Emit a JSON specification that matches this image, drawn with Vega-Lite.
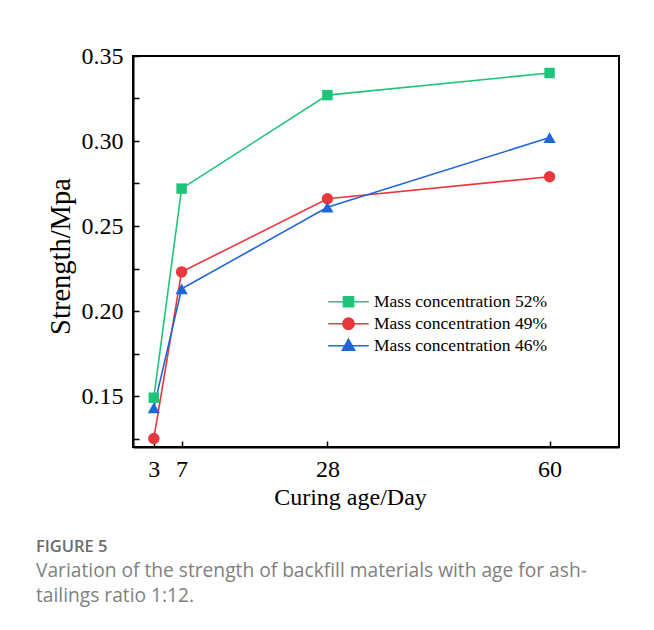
{
  "$schema": "https://vega.github.io/schema/vega-lite/v6.json",
  "autosize": {"type": "none"},
  "padding": {"left": 133, "top": 56, "right": 35, "bottom": 183},
  "width": 486,
  "height": 391,
  "background": "white",
  "config": {
    "font": "Liberation Serif",
    "view": {"stroke": "black", "strokeWidth": 2},
    "axis": {"grid": false, "domainColor": "black", "domainWidth": 2, "tickColor": "black", "tickWidth": 1.5, "labelColor": "black", "titleColor": "black", "labelFont": "Liberation Serif", "titleFont": "Liberation Serif", "titleFontWeight": "normal"}
  },
  "title": {
    "text": "FIGURE 5",
    "subtitle": ["Variation of the strength of backfill materials with age for ash-", "tailings ratio 1:12."],
    "orient": "bottom",
    "anchor": "start",
    "frame": "group",
    "dx": -97,
    "offset": 30,
    "font": "Open Sans",
    "fontSize": 16.5,
    "fontWeight": 600,
    "color": "#6b6b6b",
    "subtitleFont": "Open Sans",
    "subtitleFontSize": 19.2,
    "subtitleColor": "#808080",
    "subtitleLineHeight": 25,
    "subtitlePadding": 6
  },
  "data": {
    "values": [
      {"age": 3, "strength": 0.149, "series": "Mass concentration 52%"},
      {"age": 7, "strength": 0.272, "series": "Mass concentration 52%"},
      {"age": 28, "strength": 0.327, "series": "Mass concentration 52%"},
      {"age": 60, "strength": 0.340, "series": "Mass concentration 52%"},
      {"age": 3, "strength": 0.125, "series": "Mass concentration 49%"},
      {"age": 7, "strength": 0.223, "series": "Mass concentration 49%"},
      {"age": 28, "strength": 0.266, "series": "Mass concentration 49%"},
      {"age": 60, "strength": 0.279, "series": "Mass concentration 49%"},
      {"age": 3, "strength": 0.143, "series": "Mass concentration 46%"},
      {"age": 7, "strength": 0.213, "series": "Mass concentration 46%"},
      {"age": 28, "strength": 0.261, "series": "Mass concentration 46%"},
      {"age": 60, "strength": 0.302, "series": "Mass concentration 46%"}
    ]
  },
  "encoding": {
    "x": {
      "field": "age", "type": "quantitative",
      "scale": {"domain": [0, 70], "nice": false},
      "axis": {"values": [3, 7, 28, 60], "tickSize": -6, "labelPadding": 16, "labelFontSize": 24, "title": "Curing age/Day", "titleFontSize": 24, "titlePadding": 4, "titleX": 217}
    },
    "y": {
      "field": "strength", "type": "quantitative",
      "scale": {"domain": [0.12, 0.35], "nice": false, "zero": false},
      "axis": {"values": [0.125, 0.15, 0.175, 0.2, 0.225, 0.25, 0.275, 0.3, 0.325, 0.35], "labelExpr": "abs(datum.value*20 - round(datum.value*20)) < 0.001 ? format(datum.value, '.2f') : ''", "tickSize": -6, "labelPadding": 16, "labelFontSize": 24, "title": "Strength/Mpa", "titleFontSize": 28.5, "titlePadding": 6, "titleY": 200}
    },
    "color": {
      "field": "series", "type": "nominal",
      "scale": {"domain": ["Mass concentration 52%", "Mass concentration 49%", "Mass concentration 46%"], "range": ["#1ec47a", "#e8383d", "#1f66d6"]}
    }
  },
  "layer": [
    {
      "mark": {"type": "line", "strokeWidth": 1.6},
      "encoding": {
        "color": {
          "field": "series", "type": "nominal",
          "legend": {
            "title": null,
            "orient": "none",
            "legendX": 194,
            "legendY": 235,
            "padding": 0,
            "labelFont": "Liberation Serif",
            "labelFontSize": 17.5,
            "labelColor": "black",
            "labelOffset": 4,
            "labelLimit": 300,
            "symbolSize": 1640,
            "clipHeight": 21.5,
            "rowPadding": 0,
            "encode": {
              "symbols": {
                "update": {
                  "shape": {"signal": "datum.value == 'Mass concentration 52%' ? 'M-1,0H1M-0.25,-0.25H0.25V0.25H-0.25Z' : datum.value == 'Mass concentration 49%' ? 'M-1,0H1M0.28,0A0.28,0.28,0,1,1,-0.28,0A0.28,0.28,0,1,1,0.28,0Z' : 'M-1,0H1M0,-0.32L0.3,0.22H-0.3Z'"},
                  "fill": {"signal": "scale('color', datum.value)"},
                  "stroke": {"signal": "scale('color', datum.value)"},
                  "strokeWidth": {"value": 1.6},
                  "opacity": {"value": 1},
                  "fillOpacity": {"value": 1}
                }
              }
            }
          }
        }
      }
    },
    {
      "mark": {"type": "point", "filled": true, "opacity": 1},
      "encoding": {
        "shape": {
          "condition": [
            {"test": "datum.series == 'Mass concentration 52%'", "value": "square"},
            {"test": "datum.series == 'Mass concentration 49%'", "value": "circle"}
          ],
          "value": "triangle-up"
        },
        "size": {
          "condition": [
            {"test": "datum.series == 'Mass concentration 52%'", "value": 110},
            {"test": "datum.series == 'Mass concentration 49%'", "value": 130}
          ],
          "value": 150
        }
      }
    }
  ]
}
